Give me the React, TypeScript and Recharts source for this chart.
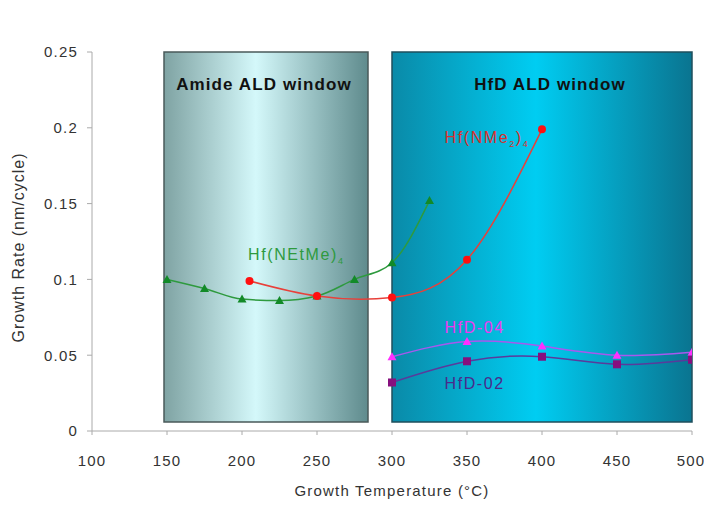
import { Line, LineChart, ReferenceArea, ReferenceDot, XAxis, YAxis } from "recharts";

const xTicks = [100, 150, 200, 250, 300, 350, 400, 450, 500];
const yTicks = [0, 0.05, 0.1, 0.15, 0.2, 0.25];

// growth rate (nm/cycle) vs growth temperature (°C)
const hfNEtMe = [
  { t: 150, rate: 0.1 }, { t: 175, rate: 0.094 }, { t: 200, rate: 0.087 }, { t: 225, rate: 0.086 },
  { t: 250, rate: 0.089 }, { t: 275, rate: 0.1 }, { t: 300, rate: 0.111 }, { t: 325, rate: 0.152 },
];
const hfNMe2 = [
  { t: 205, rate: 0.099 }, { t: 250, rate: 0.089 }, { t: 300, rate: 0.088 },
  { t: 350, rate: 0.113 }, { t: 400, rate: 0.199 },
];
const hfd04 = [
  { t: 300, rate: 0.049 }, { t: 350, rate: 0.059 }, { t: 400, rate: 0.056 },
  { t: 450, rate: 0.05 }, { t: 500, rate: 0.052 },
];
const hfd02 = [
  { t: 300, rate: 0.032 }, { t: 350, rate: 0.046 }, { t: 400, rate: 0.049 },
  { t: 450, rate: 0.044 }, { t: 500, rate: 0.047 },
];

const font = "'Liberation Sans', Arial, sans-serif";
const tickStyle = { fontSize: 15, fill: "#333", fontFamily: font, letterSpacing: 1.2 };

function Tri({ cx, cy, fill }: any) {
  if (cx == null || cy == null) return null;
  return <path d={`M${cx},${cy - 4.5}L${cx + 4.5},${cy + 3.5}L${cx - 4.5},${cy + 3.5}Z`} fill={fill} />;
}
function Sq({ cx, cy, fill }: any) {
  if (cx == null || cy == null) return null;
  return <rect x={cx - 4} y={cy - 4} width={8} height={8} fill={fill} />;
}
function Dot({ cx, cy, fill }: any) {
  if (cx == null || cy == null) return null;
  return <circle cx={cx} cy={cy} r={4} fill={fill} />;
}

const seriesText = { fontSize: 16, fontFamily: font, letterSpacing: 1.6 };

function NEtMeLabel(p: any) {
  return (
    <text x={p.cx} y={p.cy + 6} fill="#2e9a3e" {...seriesText}>
      Hf(NEtMe)
      <tspan dy={4} fontSize={9}>4</tspan>
    </text>
  );
}

function NMe2Label(p: any) {
  return (
    <text x={p.cx} y={p.cy + 6} fill="#d8302c" {...seriesText}>
      Hf(NMe
      <tspan dy={4} fontSize={9}>2</tspan>
      <tspan dy={-4}>)</tspan>
      <tspan dy={4} fontSize={9}>4</tspan>
    </text>
  );
}

function PlainLabel(name: string, color: string) {
  return (p: any) => (
    <text x={p.cx} y={p.cy + 6} fill={color} {...seriesText}>{name}</text>
  );
}

export default function App() {
  return (
    <div style={{ width: 704, height: 519, background: "#fff", overflow: "hidden" }}>
      <style>{"body{margin:0}"}</style>
      <LineChart
        width={704}
        height={519}
        margin={{ top: 52, right: 12, bottom: 18, left: 0 }}
        style={{ fontFamily: font, overflow: "hidden" }}
      >
        <defs>
          <linearGradient id="amideGrad" x1="0" y1="0" x2="1" y2="0">
            <stop offset="0%" stopColor="#7fa3a3" />
            <stop offset="45%" stopColor="#d4f8fa" />
            <stop offset="100%" stopColor="#5f8b8d" />
          </linearGradient>
          <linearGradient id="hfdGrad" x1="0" y1="0" x2="1" y2="0">
            <stop offset="0%" stopColor="#0a8aa8" />
            <stop offset="48%" stopColor="#00cdf2" />
            <stop offset="100%" stopColor="#0a7490" />
          </linearGradient>
        </defs>
        <XAxis
          type="number"
          dataKey="t"
          domain={[100, 500]}
          ticks={xTicks}
          allowDataOverflow
          height={70}
          tick={tickStyle}
          tickMargin={20}
          axisLine={{ stroke: "#aaa" }}
          tickLine={{ stroke: "#aaa" }}
          tickSize={4}
          label={{
            content: ({ viewBox }: any) => (
              <text x={viewBox.x + viewBox.width / 2} y={viewBox.y + 65} textAnchor="middle" fontSize={15} letterSpacing={1.2} fill="#333" fontFamily={font}>
                Growth Temperature (°C)
              </text>
            ),
          }}
        />
        <YAxis
          type="number"
          domain={[0, 0.25]}
          ticks={yTicks}
          width={92}
          tick={tickStyle}
          tickFormatter={(v: number) => String(v)}
          tickMargin={9}
          axisLine={{ stroke: "#aaa" }}
          tickLine={{ stroke: "#aaa" }}
          tickSize={5}
          label={{
            content: ({ viewBox }: any) => {
              const cy = viewBox.y + viewBox.height / 2 + 6;
              return (
                <text x={24} y={cy} transform={`rotate(-90 24 ${cy})`} textAnchor="middle" fontSize={16} letterSpacing={1} fill="#333" fontFamily={font}>
                  Growth Rate (nm/cycle)
                </text>
              );
            },
          }}
        />
        <ReferenceArea
          x1={148}
          x2={284}
          y1={0.006}
          y2={0.25}
          fill="url(#amideGrad)"
          fillOpacity={1}
          stroke="#4a5a5a"
          strokeWidth={1.5}
          label={{ value: "Amide ALD window", position: "insideTop", offset: 26, dx: -2, fill: "#111", fontSize: 17, letterSpacing: 1.1, fontWeight: "bold", fontFamily: font }}
        />
        <ReferenceArea
          x1={300}
          x2={500}
          y1={0.006}
          y2={0.25}
          fill="url(#hfdGrad)"
          fillOpacity={1}
          stroke="#1f4f5c"
          strokeWidth={1.5}
          label={{ value: "HfD ALD window", position: "insideTop", offset: 26, dx: 8, fill: "#111", fontSize: 17, letterSpacing: 1.1, fontWeight: "bold", fontFamily: font }}
        />
        <Line data={hfNEtMe} dataKey="rate" type="monotone" stroke="#2e9a3e" strokeWidth={1.5}
          dot={<Tri fill="#128a28" />} activeDot={false} isAnimationActive={false} />
        <Line data={hfNMe2} dataKey="rate" type="natural" stroke="#e8403a" strokeWidth={1.5}
          dot={<Dot fill="#ff1010" />} activeDot={false} isAnimationActive={false} />
        <Line data={hfd04} dataKey="rate" type="natural" stroke="#a858ee" strokeWidth={1.5}
          dot={<Tri fill="#ff30ff" />} activeDot={false} isAnimationActive={false} />
        <Line data={hfd02} dataKey="rate" type="natural" stroke="#5a3a9c" strokeWidth={1.5}
          dot={<Sq fill="#86107e" />} activeDot={false} isAnimationActive={false} />
        <ReferenceDot x={204} y={0.117} r={0} shape={NEtMeLabel} />
        <ReferenceDot x={335} y={0.194} r={0} shape={NMe2Label} />
        <ReferenceDot x={335} y={0.0686} r={0} shape={PlainLabel("HfD-04", "#ee38f0")} />
        <ReferenceDot x={335} y={0.0317} r={0} shape={PlainLabel("HfD-02", "#4a2a8c")} />
      </LineChart>
    </div>
  );
}
